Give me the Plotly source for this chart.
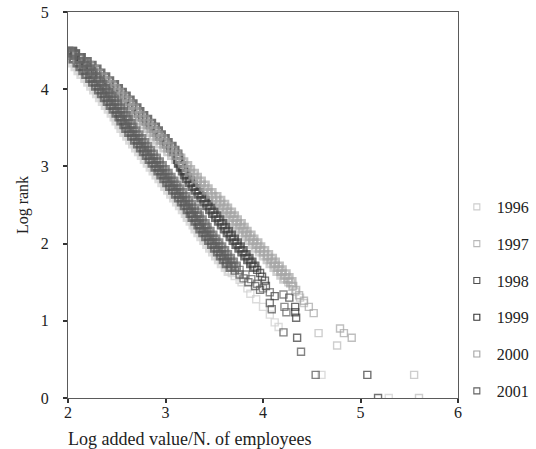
import plotly.graph_objects as go

# Shared log-rank grid for the dense body of every series
LOG_RANK_GRID = [4.48, 4.45, 4.40, 4.35, 4.30, 4.25, 4.20, 4.15, 4.10, 4.05,
                 4.00, 3.95, 3.90, 3.85, 3.80, 3.75, 3.70, 3.65, 3.60, 3.55,
                 3.50, 3.45, 3.40, 3.35, 3.30, 3.25, 3.20, 3.15, 3.10, 3.05,
                 3.00, 2.95, 2.90, 2.85, 2.80, 2.75, 2.70, 2.65, 2.60, 2.55,
                 2.50, 2.45, 2.40, 2.35, 2.30, 2.25, 2.20, 2.15, 2.10, 2.05,
                 2.00, 1.95, 1.90, 1.85, 1.80, 1.75, 1.70, 1.65, 1.60, 1.55,
                 1.50]

# Body x-values (log added value / employees) per year
BODY_1996 = [2.00, 2.01, 2.02, 2.05, 2.08, 2.11, 2.14, 2.18, 2.21, 2.24,
             2.27, 2.30, 2.33, 2.36, 2.39, 2.42, 2.45, 2.48, 2.50, 2.53,
             2.55, 2.58, 2.61, 2.64, 2.67, 2.70, 2.73, 2.76, 2.79, 2.82,
             2.85, 2.88, 2.91, 2.94, 2.97, 3.00, 3.03, 3.06, 3.09, 3.12,
             3.15, 3.18, 3.21, 3.23, 3.26, 3.29, 3.31, 3.34, 3.37, 3.40,
             3.43, 3.46, 3.49, 3.52, 3.55, 3.58, 3.62, 3.65]
BODY_1997 = [2.00, 2.01, 2.06, 2.12, 2.17, 2.22, 2.26, 2.31, 2.35, 2.40,
             2.44, 2.48, 2.52, 2.56, 2.59, 2.63, 2.66, 2.70, 2.74, 2.78,
             2.82, 2.85, 2.88, 2.92, 2.95, 2.99, 3.03, 3.07, 3.11, 3.14,
             3.18, 3.21, 3.25, 3.28, 3.32, 3.36, 3.39, 3.43, 3.48, 3.52,
             3.56, 3.59, 3.63, 3.66, 3.69, 3.73, 3.76, 3.79, 3.83, 3.86,
             3.90, 3.93, 3.97, 4.01, 4.05, 4.08, 4.12, 4.15, 4.19, 4.22]
BODY_1998 = [2.00, 2.02, 2.06, 2.10, 2.13, 2.16, 2.19, 2.23, 2.26, 2.29,
             2.32, 2.35, 2.38, 2.41, 2.44, 2.47, 2.50, 2.53, 2.55, 2.58,
             2.60, 2.63, 2.66, 2.69, 2.72, 2.75, 2.78, 2.81, 2.84, 2.87,
             2.90, 2.93, 2.96, 2.99, 3.02, 3.05, 3.08, 3.11, 3.14, 3.17,
             3.20, 3.23, 3.26, 3.28, 3.31, 3.34, 3.36, 3.39, 3.42, 3.45,
             3.48, 3.51, 3.54, 3.57, 3.60, 3.63, 3.67]
BODY_1999 = [2.04, 2.07, 2.13, 2.19, 2.24, 2.29, 2.33, 2.38, 2.42, 2.47,
             2.51, 2.55, 2.59, 2.63, 2.66, 2.70, 2.73, 2.77, 2.81, 2.85,
             2.89, 2.92, 2.95, 2.99, 3.02, 3.06, 3.09, 3.12, 3.13, 3.14,
             3.16, 3.18, 3.20, 3.22, 3.25, 3.28, 3.31, 3.34, 3.37, 3.40,
             3.43, 3.46, 3.49, 3.52, 3.55, 3.58, 3.61, 3.64, 3.67, 3.70,
             3.73, 3.76, 3.79, 3.82, 3.85, 3.88, 3.91]
BODY_2000 = [2.01, 2.04, 2.10, 2.16, 2.21, 2.26, 2.30, 2.35, 2.39, 2.44,
             2.48, 2.52, 2.56, 2.60, 2.63, 2.67, 2.70, 2.74, 2.78, 2.82,
             2.86, 2.89, 2.92, 2.96, 2.99, 3.03, 3.07, 3.11, 3.15, 3.18,
             3.22, 3.25, 3.29, 3.32, 3.36, 3.40, 3.43, 3.47, 3.52, 3.56,
             3.60, 3.63, 3.67, 3.70, 3.73, 3.77, 3.80, 3.83, 3.87, 3.90,
             3.94, 3.97, 4.01, 4.05, 4.09, 4.12, 4.16, 4.19, 4.23, 4.26,
             4.29]
BODY_2001 = [2.04, 2.07, 2.12, 2.16, 2.19, 2.22, 2.25, 2.29, 2.32, 2.35,
             2.38, 2.41, 2.44, 2.47, 2.50, 2.53, 2.56, 2.59, 2.61, 2.64,
             2.66, 2.69, 2.72, 2.75, 2.78, 2.81, 2.84, 2.87, 2.90, 2.93,
             2.96, 2.99, 3.02, 3.05, 3.08, 3.11, 3.14, 3.17, 3.20, 3.23,
             3.26, 3.29, 3.32, 3.34, 3.37, 3.40, 3.42, 3.45, 3.48, 3.51,
             3.54, 3.57, 3.60, 3.63, 3.66, 3.69, 3.72]

# Sparse tails (largest firms), x and y read point by point
TAIL_X_1996 = [3.68, 3.71, 3.76, 3.78, 3.84, 3.87, 3.93, 4.00, 4.07, 4.12, 4.16, 4.60, 5.29]
TAIL_Y_1996 = [1.62, 1.58, 1.53, 1.50, 1.42, 1.35, 1.28, 1.18, 1.08, 0.98, 0.92, 0.30, 0.00]
TAIL_X_1997 = [4.26, 4.30, 4.33, 4.38, 4.42, 4.57, 4.76, 5.55, 5.60]
TAIL_Y_1997 = [1.50, 1.44, 1.38, 1.30, 1.23, 0.84, 0.68, 0.30, 0.00]
TAIL_X_1998 = [3.71, 3.76, 3.80, 3.85, 3.92, 3.97, 4.07, 4.09, 4.21, 4.39, 4.54]
TAIL_Y_1998 = [1.65, 1.60, 1.55, 1.50, 1.45, 1.40, 1.23, 1.15, 0.85, 0.60, 0.30]
TAIL_X_1999 = [3.94, 3.97, 3.99, 4.02, 4.03, 4.12, 4.27, 4.33, 4.33, 4.34, 4.35, 5.07, 5.18]
TAIL_Y_1999 = [1.66, 1.62, 1.57, 1.52, 1.45, 1.32, 1.30, 1.18, 1.11, 1.04, 0.78, 0.30, 0.00]
TAIL_X_2000 = [4.31, 4.34, 4.37, 4.42, 4.47, 4.52, 4.79, 4.83, 4.91]
TAIL_Y_2000 = [1.45, 1.40, 1.33, 1.26, 1.18, 1.10, 0.90, 0.84, 0.78]
TAIL_X_2001 = [3.76, 3.82, 3.88, 3.94, 4.00, 4.07, 4.21, 4.22, 4.24]
TAIL_Y_2001 = [1.66, 1.60, 1.54, 1.48, 1.42, 1.37, 1.34, 1.18, 1.11]

YEARS = ["1996", "1997", "1998", "1999", "2000", "2001"]
COLORS = ["#cdcdcd", "#b9b9b9", "#4e4e4e", "#343434", "#a4a4a4", "#606060"]

series = [
    (BODY_1996, TAIL_X_1996, TAIL_Y_1996),
    (BODY_1997, TAIL_X_1997, TAIL_Y_1997),
    (BODY_1998, TAIL_X_1998, TAIL_Y_1998),
    (BODY_1999, TAIL_X_1999, TAIL_Y_1999),
    (BODY_2000, TAIL_X_2000, TAIL_Y_2000),
    (BODY_2001, TAIL_X_2001, TAIL_Y_2001),
]

SERIF = "Liberation Serif, DejaVu Serif, serif"
TXT = "#222222"

fig = go.Figure()
for year, color, (body, tx, ty) in zip(YEARS, COLORS, series):
    xs = list(body) + list(tx)
    ys = LOG_RANK_GRID[:len(body)] + list(ty)
    sizes = [8] * len(body) + [7] * len(tx)
    widths = [2.6] * len(body) + [1.4] * len(tx)
    fig.add_trace(go.Scatter(
        x=xs, y=ys, mode="markers", name=year, legendgroup=year,
        showlegend=False,
        marker=dict(symbol="square-open", size=sizes, color=color,
                    line=dict(width=widths, color=color)),
    ))

# legend entries (small hollow squares, as in the original key)
for year, color in zip(YEARS, COLORS):
    fig.add_trace(go.Scatter(
        x=[None], y=[None], mode="markers", name=year, legendgroup=year,
        marker=dict(symbol="square-open", size=6, color=color,
                    line=dict(width=1.1, color=color)),
    ))

axis_common = dict(showgrid=False, zeroline=False, showline=True, mirror=True,
                   linecolor="#5a5a5a", linewidth=1, ticks="outside",
                   ticklen=4, tickwidth=2, tickcolor="#333333",
                   tickfont=dict(family=SERIF, size=16, color=TXT))

fig.update_layout(
    width=536, height=449,
    margin=dict(l=68, r=78, t=12, b=51, autoexpand=False),
    paper_bgcolor="white", plot_bgcolor="white",
    showlegend=True,
    legend=dict(x=0.997, y=0.539, xanchor="left", yanchor="top",
                traceorder="grouped", tracegroupgap=13,
                font=dict(family=SERIF, size=16, color=TXT),
                bgcolor="rgba(0,0,0,0)", itemwidth=30),
    xaxis=dict(range=[2, 6], tickvals=[2, 3, 4, 5, 6], **axis_common,
               ticklabelstandoff=-4),
    yaxis=dict(range=[0, 5], tickvals=[0, 1, 2, 3, 4, 5], **axis_common,
               ticklabelstandoff=11,
               title=dict(text="Log rank", standoff=8,
                          font=dict(family=SERIF, size=16, color=TXT))),
    annotations=[dict(text="Log added value/N. of employees", xref="paper",
                      yref="paper", x=0, y=-0.075, xanchor="left", yanchor="top",
                      showarrow=False, xshift=-2,
                      font=dict(family=SERIF, size=18, color=TXT))],
)

fig.write_html("out.html")
